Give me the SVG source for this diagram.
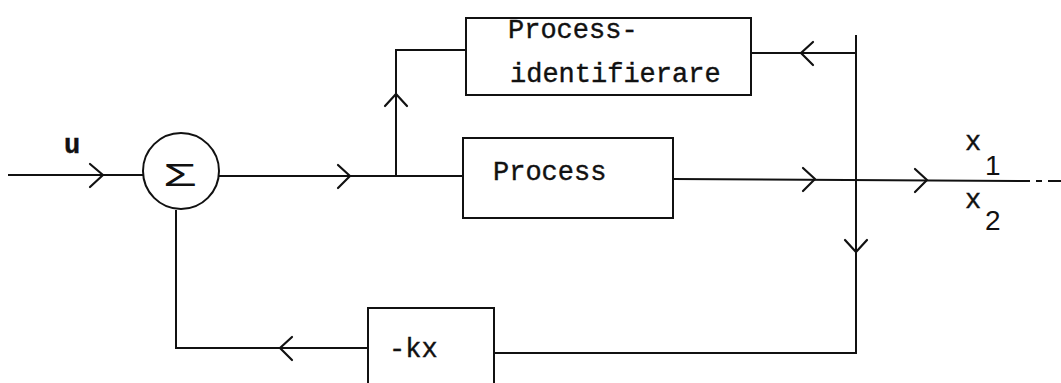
<svg xmlns="http://www.w3.org/2000/svg" width="1061" height="383" viewBox="0 0 1061 383">
  <style>
    .ln { fill: none; stroke: #111; stroke-width: 2; stroke-linecap: butt; }
    .box { fill: none; stroke: #111; stroke-width: 2; }
    .hd { fill: none; stroke: #111; stroke-width: 2.2; stroke-linecap: round; stroke-linejoin: round; }
    .tw { font-family: "Liberation Mono", "Courier New", monospace; font-size: 27px; fill: #111; stroke: #111; stroke-width: 0.4; }
    .sub { font-family: "Liberation Sans", Arial, sans-serif; font-size: 28px; fill: #111; }
  </style>
  <rect width="1061" height="383" fill="#fff"/>

  <!-- connectors -->
  <g id="connectors">
    <!-- input u -->
    <path class="ln" d="M8 175 H143"/>
    <!-- summer output to Process, with branch up to identification -->
    <path class="ln" d="M219 176 H463"/>
    <path class="ln" d="M396 176 V50 H466"/>
    <!-- Process output -->
    <path class="ln" d="M673 179 L1030 181"/>
    <path class="ln" d="M1036 181 H1042 M1048 181 H1061"/>
    <!-- tap line to identification and state feedback -->
    <path class="ln" d="M856 35 V353 H494"/>
    <path class="ln" d="M751 53 H856"/>
    <!-- feedback into summer -->
    <path class="ln" d="M368 348 H176 V210"/>

    <!-- open chevron arrowheads -->
    <path class="hd" d="M90 164 L103 175 L90 187"/>
    <path class="hd" d="M338 165 L350 176 L338 188"/>
    <path class="hd" d="M385 106 L396 94 L407 106"/>
    <path class="hd" d="M813 42 L801 53 L813 65"/>
    <path class="hd" d="M803 168 L815 179 L803 191"/>
    <path class="hd" d="M915 169 L927 180 L915 192"/>
    <path class="hd" d="M845 240 L856 252 L867 240"/>
    <path class="hd" d="M292 337 L280 348 L292 360"/>
  </g>

  <!-- summing junction -->
  <g id="sum">
    <circle class="box" cx="181" cy="171" r="38"/>
    <text x="163" y="186" font-family="'Liberation Sans', Arial, sans-serif" font-size="31" fill="#111" textLength="34" lengthAdjust="spacingAndGlyphs">Σ</text>
  </g>

  <!-- input label -->
  <g id="label-u">
    <text class="tw" x="64" y="153" font-weight="bold">u</text>
  </g>

  <!-- identification block -->
  <g id="identification">
    <rect class="box" x="466" y="18" width="285" height="77"/>
    <text class="tw" x="508" y="38">Process-</text>
    <text class="tw" x="510" y="82">identifierare</text>
  </g>

  <!-- plant -->
  <g id="process">
    <rect class="box" x="463" y="138" width="210" height="80"/>
    <text class="tw" x="493" y="180">Process</text>
  </g>

  <!-- state feedback gain -->
  <g id="gain">
    <path class="box" d="M368 390 V308 H494 V390"/>
    <text class="tw" x="389" y="357">-kx</text>
  </g>

  <!-- output states -->
  <g id="outputs">
    <text class="tw" x="965" y="150">x</text>
    <text class="sub" x="985" y="175">1</text>
    <text class="tw" x="965" y="208">x</text>
    <text class="sub" x="985" y="230">2</text>
  </g>
</svg>
